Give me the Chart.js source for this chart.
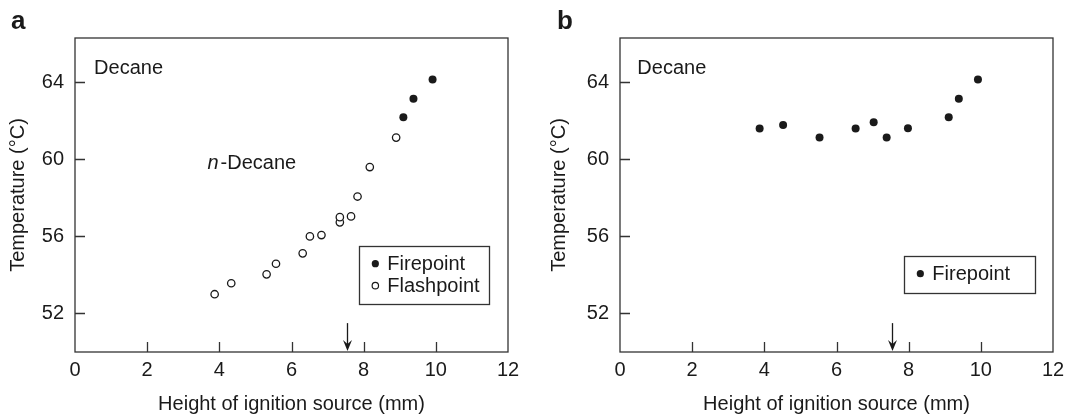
<!DOCTYPE html>
<html>
<head>
<meta charset="utf-8">
<script src="https://cdn.jsdelivr.net/npm/chart.js@4"></script>
<style>
  html, body { margin: 0; padding: 0; background: #fff; }
  .row { display: flex; width: 1082px; height: 416px; }
  canvas { display: block; }
</style>
</head>
<body>
<div class="row">
  <canvas id="chartA" width="541" height="416"></canvas>
  <canvas id="chartB" width="541" height="416"></canvas>
</div>
<script>
// panel a: n-decane flashpoint / firepoint vs. height of ignition source
const flashX_a = [3.87, 4.33, 5.31, 5.57, 6.31, 6.51, 6.83, 7.34, 7.34, 7.65, 7.83, 8.17, 8.90];
const flashY_a = [53.0, 53.57, 54.03, 54.58, 55.12, 56.0, 56.07, 56.73, 57.0, 57.04, 58.07, 59.6, 61.13];
const fireX_a = [9.10, 9.38, 9.91];
const fireY_a = [62.19, 63.15, 64.14];

// panel b: firepoint only
const fireX_b = [3.87, 4.52, 5.53, 6.53, 7.03, 7.39, 7.98, 9.11, 9.39, 9.92];
const fireY_b = [61.6, 61.79, 61.13, 61.6, 61.93, 61.13, 61.62, 62.19, 63.15, 64.14];

const xTickLabels = [0, 2, 4, 6, 8, 10, 12];
const yTickLabels = [52, 56, 60, 64];
const xInnerTicks = [2, 4, 6, 8, 10];
const arrowX = 7.55;
const arrowY = [51.5, 50.05];

const FONT = "'Liberation Sans', Arial, Helvetica, sans-serif";
const INK = '#1a1a1a';

function pts(xs, ys) {
    return xs.map(function (v, i) { return { x: v, y: ys[i] }; });
}

// box, inward ticks, arrow, labels and the legend inside the plot
const panelPlugin = {
    id: 'panel',
    afterDraw(chart, args, o) {
        const ctx = chart.ctx;
        const a = chart.chartArea;
        const x = chart.scales.x, y = chart.scales.y;
        ctx.save();
        ctx.strokeStyle = '#333';
        ctx.lineWidth = 1.3;
        ctx.strokeRect(a.left, a.top, a.right - a.left, a.bottom - a.top);

        ctx.beginPath();
        xInnerTicks.forEach(function (v) {
            const px = Math.round(x.getPixelForValue(v)) + 0.5;
            ctx.moveTo(px, a.bottom);
            ctx.lineTo(px, a.bottom - 10);
        });
        yTickLabels.forEach(function (v) {
            const py = Math.round(y.getPixelForValue(v)) + 0.5;
            ctx.moveTo(a.left, py);
            ctx.lineTo(a.left + 10, py);
        });
        ctx.stroke();

        // arrow marking the ignition height
        const ax = Math.round(x.getPixelForValue(arrowX)) + 0.5;
        const ay0 = y.getPixelForValue(arrowY[0]);
        const ay1 = y.getPixelForValue(arrowY[1]);
        ctx.strokeStyle = INK;
        ctx.lineWidth = 1.3;
        ctx.beginPath();
        ctx.moveTo(ax, ay0);
        ctx.lineTo(ax, ay1 - 5);
        ctx.stroke();
        ctx.fillStyle = INK;
        ctx.beginPath();
        ctx.moveTo(ax - 4.5, ay1 - 11);
        ctx.lineTo(ax, ay1);
        ctx.lineTo(ax + 4.5, ay1 - 11);
        ctx.lineTo(ax, ay1 - 7);
        ctx.closePath();
        ctx.fill();

        // texts
        ctx.fillStyle = INK;
        ctx.textBaseline = 'middle';
        ctx.textAlign = 'left';
        ctx.font = '20px ' + FONT;
        ctx.fillText('Decane', x.getPixelForValue(o.decane[0]), y.getPixelForValue(o.decane[1]));
        if (o.nDecane) {
            const nx = x.getPixelForValue(o.nDecane[0]);
            const ny = y.getPixelForValue(o.nDecane[1]);
            ctx.font = 'italic 20px ' + FONT;
            ctx.fillText('n', nx, ny);
            const w = ctx.measureText('n').width;
            ctx.font = '20px ' + FONT;
            ctx.fillText('-Decane', nx + w + 2, ny);
        }

        // panel letter
        ctx.font = 'bold 26px ' + FONT;
        ctx.textBaseline = 'alphabetic';
        ctx.fillText(o.letter, o.letterPos[0], o.letterPos[1]);

        // legend
        const L = o.legend;
        const lx0 = x.getPixelForValue(L.box[0]), lx1 = x.getPixelForValue(L.box[1]);
        const ly0 = y.getPixelForValue(L.box[2]), ly1 = y.getPixelForValue(L.box[3]);
        ctx.strokeStyle = '#333';
        ctx.lineWidth = 1.3;
        ctx.strokeRect(Math.round(lx0) + 0.5, Math.round(ly0) + 0.5, Math.round(lx1 - lx0), Math.round(ly1 - ly0));
        ctx.font = '20px ' + FONT;
        ctx.textBaseline = 'middle';
        L.items.forEach(function (it, i) {
            const cy = ly0 + L.firstRow + i * L.rowGap;
            ctx.beginPath();
            ctx.arc(lx0 + 16, cy, it.filled ? 3.6 : 3.2, 0, Math.PI * 2);
            if (it.filled) {
                ctx.fillStyle = INK;
                ctx.fill();
            } else {
                ctx.fillStyle = '#fff';
                ctx.fill();
                ctx.strokeStyle = INK;
                ctx.lineWidth = 1.2;
                ctx.stroke();
            }
            ctx.fillStyle = INK;
            ctx.fillText(it.label, lx0 + 28, cy + 1);
        });
        ctx.restore();
    }
};

function makePanel(id, datasets, axisWidth, rightPad, panelOpts) {
    return new Chart(document.getElementById(id), {
        type: 'scatter',
        data: { datasets: datasets },
        options: {
            responsive: false,
            animation: false,
            events: [],
            layout: { padding: { top: 38, right: rightPad, left: 0, bottom: 0 } },
            plugins: {
                legend: { display: false },
                tooltip: { enabled: false },
                panel: panelOpts
            },
            scales: {
                x: {
                    type: 'linear',
                    min: 0,
                    max: 12,
                    afterBuildTicks: function (s) { s.ticks = xTickLabels.map(function (v) { return { value: v }; }); },
                    afterFit: function (s) { s.height = 64; },
                    grid: { display: false, drawTicks: false },
                    border: { display: false },
                    ticks: { padding: 6, color: INK, font: { family: FONT, size: 20 }, maxRotation: 0 },
                    title: {
                        display: true,
                        text: 'Height of ignition source (mm)',
                        color: INK,
                        font: { family: FONT, size: 20 },
                        padding: { top: 0, bottom: 0 }
                    }
                },
                y: {
                    type: 'linear',
                    min: 50,
                    max: 66.3,
                    afterBuildTicks: function (s) { s.ticks = yTickLabels.map(function (v) { return { value: v }; }); },
                    afterFit: function (s) { s.width = axisWidth; },
                    grid: { display: false, drawTicks: false },
                    border: { display: false },
                    ticks: { padding: 11, color: INK, font: { family: FONT, size: 20 } },
                    title: {
                        display: true,
                        text: 'Temperature (°C)',
                        color: INK,
                        font: { family: FONT, size: 20 },
                        padding: { top: 6, bottom: 0 }
                    }
                }
            }
        },
        plugins: [panelPlugin]
    });
}

makePanel('chartA', [
    {
        label: 'Flashpoint',
        data: pts(flashX_a, flashY_a),
        pointRadius: 3.7,
        pointBorderWidth: 1.3,
        pointBackgroundColor: '#fff',
        pointBorderColor: INK
    },
    {
        label: 'Firepoint',
        data: pts(fireX_a, fireY_a),
        pointRadius: 4,
        pointBorderWidth: 0,
        pointBackgroundColor: INK,
        pointBorderColor: INK
    }
], 75, 33, {
    letter: 'a',
    letterPos: [11, 29],
    decane: [0.53, 64.73],
    nDecane: [3.67, 59.78],
    legend: {
        box: [7.88, 11.49, 55.52, 52.53],
        firstRow: 18,
        rowGap: 22,
        items: [{ label: 'Firepoint', filled: true }, { label: 'Flashpoint', filled: false }]
    }
});

makePanel('chartB', [
    {
        label: 'Firepoint',
        data: pts(fireX_b, fireY_b),
        pointRadius: 4,
        pointBorderWidth: 0,
        pointBackgroundColor: INK,
        pointBorderColor: INK
    }
], 79, 29, {
    letter: 'b',
    letterPos: [16, 29],
    decane: [0.48, 64.73],
    nDecane: null,
    legend: {
        box: [7.88, 11.5, 55.0, 53.06],
        firstRow: 18,
        rowGap: 22,
        items: [{ label: 'Firepoint', filled: true }]
    }
});
</script>
</body>
</html>
